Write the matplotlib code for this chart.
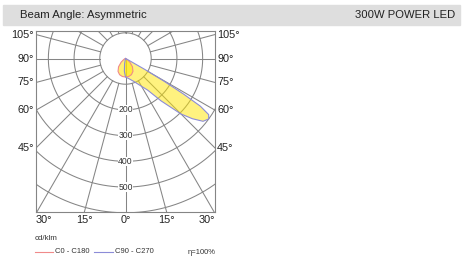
import numpy as np
import matplotlib
matplotlib.use("Agg")
import matplotlib.pyplot as plt

plt.rcParams["font.family"] = ["Liberation Sans", "DejaVu Sans"]

# ── Data (cd/klm vs. gamma angle in degrees, + = right side) ──────────
title_left = "Beam Angle: Asymmetric"
title_right = "300W POWER LED"

red_angles = [-90, -80, -70, -60, -50, -40, -30, -20, -10, 0,
              10, 20, 30, 40, 50, 60, 70, 80, 90]
red_values = [0, 0, 2, 8, 22, 42, 58, 67, 71, 72,
              71, 67, 58, 42, 22, 8, 2, 0, 0]

blue_angles = [-30, -20, -10, -5, 0, 10, 20, 30, 35, 40, 45, 48, 51, 54,
               56, 57.5, 58.5, 59.5, 60.5, 62, 65]
blue_values = [0, 0, 20, 50, 72, 80, 95, 125, 150, 215, 305, 350, 388, 400,
               390, 345, 265, 175, 85, 15, 0]

ring_values = [100, 200, 300, 400, 500, 600, 700, 800]
ring_labels = [200, 300, 400, 500]
side_labels = [105, 90, 75, 60, 45]
bottom_labels = [-30, -15, 0, 15, 30]

legend_red = "C0 - C180"
legend_blue = "C90 - C270"
unit_text = "cd/klm"
eff_text = "η=100%"

GRID = "#858585"
RED = "#f08a8a"
BLUE = "#8c8cd8"
FILL = "#ffe600"
TXT = "#222222"

XMAX, YMIN, YMAX = 348, -597, 107


def to_xy(angles, values):
    a = np.radians(angles)
    v = np.asarray(values, dtype=float)
    return v * np.sin(a), -v * np.cos(a)


def main() -> None:
    fig = plt.figure(figsize=(4.69, 2.59), dpi=100)

    # header band
    fig.patches.append(plt.Rectangle((3 / 469, 1 - 25 / 259), 457 / 469, 20 / 259,
                                     transform=fig.transFigure, color="#dedede",
                                     zorder=0))
    fig.text(20 / 469, 1 - 14.5 / 259, title_left, fontsize=8.2, va="center",
             color=TXT)
    fig.text(455 / 469, 1 - 14.5 / 259, title_right, fontsize=8.1, va="center",
             ha="right", color=TXT)

    ax = fig.add_axes([36 / 469, 47 / 259, 179 / 469, 181 / 259])
    ax.set_xlim(-XMAX, XMAX)
    ax.set_ylim(YMIN, YMAX)
    ax.set_xticks([])
    ax.set_yticks([])
    for s in ax.spines.values():
        s.set_color(GRID)
        s.set_linewidth(0.8)

    # polar grid
    t = np.linspace(0, 2 * np.pi, 361)
    for r in ring_values:
        ax.plot(r * np.sin(t), r * np.cos(t), color=GRID, lw=0.75, zorder=1)
    for g in range(0, 360, 15):
        r0 = 0 if g == 0 else 100
        x, y = to_xy([g, g], [r0, 1200])
        ax.plot(x, y, color=GRID, lw=0.75, zorder=1)

    # curves
    rx, ry = to_xy(red_angles, red_values)
    bx, by = to_xy(blue_angles, blue_values)
    ax.fill(bx, by, color=FILL, alpha=0.5, lw=0, zorder=2)
    ax.fill(rx, ry, color=FILL, alpha=0.55, lw=0, zorder=2)
    ax.plot(rx, ry, color=RED, lw=0.8, zorder=3)
    ax.plot(bx, by, color=BLUE, lw=0.8, zorder=3)

    for v in ring_labels:
        ax.text(0, -v, str(v), fontsize=6.2, ha="center", va="center",
                color="#333333", zorder=4,
                bbox=dict(facecolor="white", edgecolor="none", pad=0.1))

    # angle labels around the box
    for g in side_labels:
        a = np.radians(g)
        y = -XMAX * np.cos(a) / np.sin(a)
        ax.text(-XMAX - 8, y, f"{g}°", fontsize=7.8, ha="right", va="center",
                color=TXT)
        ax.text(XMAX + 8, y, f"{g}°", fontsize=7.8, ha="left", va="center",
                color=TXT)
    for g in bottom_labels:
        x = -YMIN * np.tan(np.radians(g))
        ha = "center"
        if g == bottom_labels[0]:
            ha, x = "left", -XMAX
        elif g == bottom_labels[-1]:
            ha, x = "right", XMAX
        ax.text(x, YMIN - 10, f"{abs(g)}°", fontsize=7.8, ha=ha, va="top",
                color=TXT)

    # legend
    fig.text(35 / 469, 1 - 239 / 259, unit_text, fontsize=5.7, va="center",
             color="#333333")
    fig.add_artist(plt.Line2D([35 / 469, 53 / 469], [1 - 252 / 259] * 2,
                              color=RED, lw=0.8))
    fig.text(55 / 469, 1 - 251.5 / 259, legend_red, fontsize=5.5, va="center",
             color="#333333")
    fig.add_artist(plt.Line2D([94 / 469, 113 / 469], [1 - 252 / 259] * 2,
                              color=BLUE, lw=0.8))
    fig.text(115 / 469, 1 - 251.5 / 259, legend_blue, fontsize=5.5, va="center",
             color="#333333")
    fig.text(188 / 469, 1 - 252.5 / 259, eff_text, fontsize=5.5, va="center",
             color="#333333")

    fig.savefig("out.png", dpi=100)
    plt.close(fig)


if __name__ == "__main__":
    main()
